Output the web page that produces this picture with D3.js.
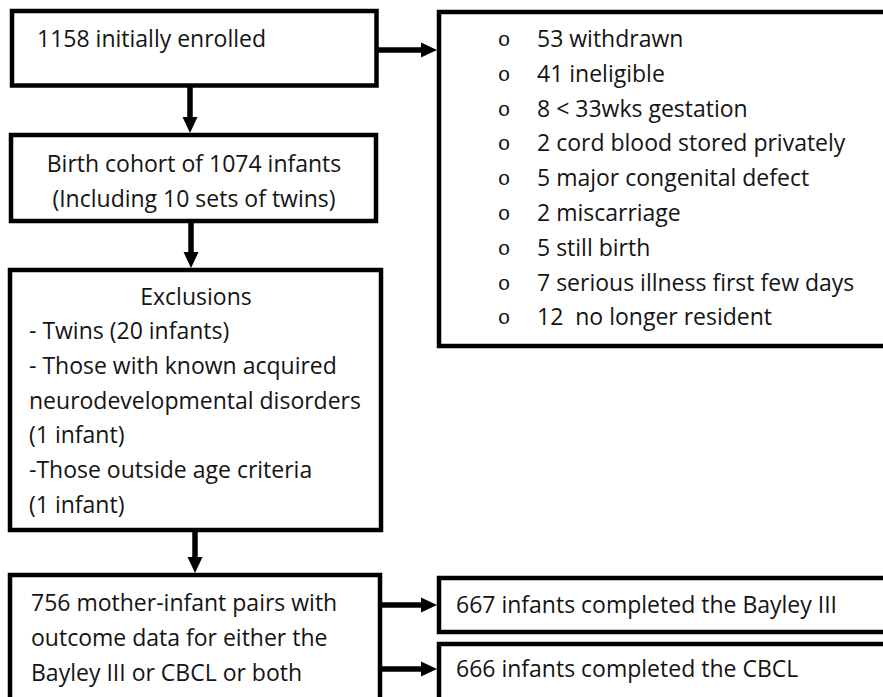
<!DOCTYPE html>
<html>
<head>
<meta charset="utf-8">
<script src="https://cdn.jsdelivr.net/npm/d3@7"></script>
<style>
  body { margin: 0; background: #fff; }
  svg { display: block; }
  text { font-family: "Open Sans", Lato, sans-serif; font-size: 23px; fill: #141414; white-space: pre; }
  .bullet { font-family: "Liberation Mono", monospace; font-size: 21px; }
</style>
</head>
<body>
<svg width="883" height="697"></svg>
<script>
// flowchart text, one array per box
var enrolled = ["1158 initially enrolled"];
var cohort = ["Birth cohort of 1074 infants", "(Including 10 sets of twins)"];
var exclusionsTitle = ["Exclusions"];
var exclusions = [
  "- Twins (20 infants)",
  "- Those with known acquired",
  "neurodevelopmental disorders",
  "(1 infant)",
  "-Those outside age criteria",
  "(1 infant)"
];
var removed = [
  "53 withdrawn",
  "41 ineligible",
  "8 < 33wks gestation",
  "2 cord blood stored privately",
  "5 major congenital defect",
  "2 miscarriage",
  "5 still birth",
  "7 serious illness first few days",
  "12  no longer resident"
];
var outcome = [
  "756 mother-infant pairs with",
  "outcome data for either the",
  "Bayley III or CBCL or both"
];
var bayley = ["667 infants completed the Bayley III"];
var cbcl = ["666 infants completed the CBCL"];

var svg = d3.select("svg");
var lineGap = 34.8;

// box frames (stroke centre), right-hand ones run off the page like the original
var boxes = [
  { x: 12,  y: 11,  x2: 376.5, y2: 85.5 },
  { x: 11,  y: 135, x2: 376,   y2: 221 },
  { x: 10,  y: 270, x2: 381,   y2: 530 },
  { x: 10,  y: 575, x2: 380,   y2: 730 },
  { x: 439, y: 12,  x2: 905,   y2: 346 },
  { x: 439, y: 578, x2: 905,   y2: 632 },
  { x: 439, y: 644, x2: 905,   y2: 730 }
];

svg.selectAll("rect.box")
  .data(boxes).enter()
  .append("rect")
  .attr("class", "box")
  .attr("x", d => d.x)
  .attr("y", d => d.y)
  .attr("width", d => d.x2 - d.x)
  .attr("height", d => d.y2 - d.y)
  .attr("fill", "#fff")
  .attr("stroke", "#000")
  .attr("stroke-width", 4.5);

// arrows: line + filled head
var arrows = [
  { x1: 190, y1: 86,  x2: 190, y2: 133 },
  { x1: 191, y1: 221, x2: 191, y2: 268 },
  { x1: 195, y1: 530, x2: 195, y2: 573 },
  { x1: 377, y1: 50,  x2: 437, y2: 50 },
  { x1: 380, y1: 605, x2: 437, y2: 605 },
  { x1: 380, y1: 669, x2: 437, y2: 669 }
];
var headLen = 16, headHalf = 7.5;

var arrow = svg.selectAll("g.arrow")
  .data(arrows).enter()
  .append("g")
  .attr("class", "arrow");

arrow.append("line")
  .attr("x1", d => d.x1).attr("y1", d => d.y1)
  .attr("x2", d => d.x2 - Math.sign(d.x2 - d.x1) * (headLen - 2))
  .attr("y2", d => d.y2 - Math.sign(d.y2 - d.y1) * (headLen - 2))
  .attr("stroke", "#000")
  .attr("stroke-width", 5.5);

arrow.append("path")
  .attr("fill", "#000")
  .attr("d", function(d) {
    var ang = Math.atan2(d.y2 - d.y1, d.x2 - d.x1);
    var p = d3.path();
    var bx = d.x2 - headLen * Math.cos(ang), by = d.y2 - headLen * Math.sin(ang);
    p.moveTo(d.x2, d.y2);
    p.lineTo(bx - headHalf * Math.sin(ang), by + headHalf * Math.cos(ang));
    p.lineTo(bx + headHalf * Math.sin(ang), by - headHalf * Math.cos(ang));
    p.closePath();
    return p.toString();
  });

// generic text block writer
function block(lines, x, y0, anchor) {
  svg.append("g").selectAll("text")
    .data(lines).enter()
    .append("text")
    .attr("x", x)
    .attr("y", (d, i) => y0 + i * lineGap)
    .attr("text-anchor", anchor || "start")
    .text(d => d);
}

block(enrolled, 37, 47);
block(cohort, 194, 172, "middle");
block(exclusionsTitle, 196, 305, "middle");
block(exclusions, 29, 339);
block(outcome, 31, 611);
block(bayley, 456, 613);
block(cbcl, 456, 677);

// bulleted list of removals
block(removed, 537, 47);
svg.append("g").selectAll("text")
  .data(removed).enter()
  .append("text")
  .attr("class", "bullet")
  .attr("x", 504)
  .attr("y", (d, i) => 46 + i * lineGap)
  .attr("text-anchor", "middle")
  .text("o");
</script>
</body>
</html>
